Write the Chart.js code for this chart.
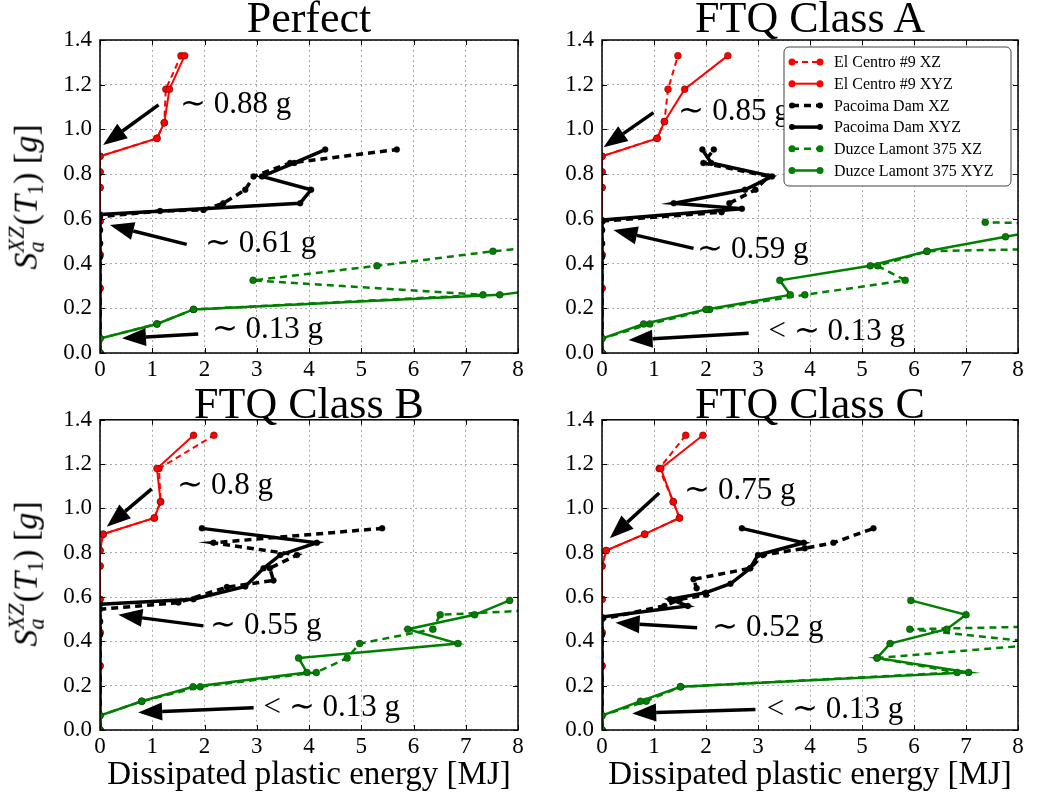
<!DOCTYPE html>
<html>
<head>
<meta charset="utf-8">
<script src="https://cdn.jsdelivr.net/npm/chart.js@4.4.1/dist/chart.umd.min.js"></script>
<style>
  body { margin: 0; background: #fff; }
  #wrap { position: relative; width: 1043px; height: 796px; overflow: hidden; font-family: 'Liberation Serif', serif; color: #000; }
  canvas { position: absolute; }
  .ttl { position: absolute; transform: translate(-50%, -50%); font-size: 44px; white-space: nowrap; line-height: 1; }
  .xlab { position: absolute; transform: translate(-50%, -50%); font-size: 33px; white-space: nowrap; line-height: 1; }
  .ylab { position: absolute; transform: translate(-50%, -50%) rotate(-90deg); font-size: 34px; white-space: nowrap; line-height: 1; }
  .zw { display: inline-block; width: 0; font-size: 0.66em; font-style: italic; vertical-align: -0.3em; }
  .sp { font-size: 0.66em; font-style: italic; vertical-align: 0.6em; margin-right: 0.05em; }
  .sub1 { font-size: 0.66em; vertical-align: -0.25em; }
</style>
</head>
<body>
<div id="wrap">
  <canvas id="pPerfect" width="530" height="398" style="left:0;top:0"></canvas>
  <canvas id="pClassA" width="490" height="398" style="left:540px;top:0"></canvas>
  <canvas id="pClassB" width="530" height="398" style="left:0;top:398px"></canvas>
  <canvas id="pClassC" width="490" height="398" style="left:540px;top:398px"></canvas>

  <div class="ttl" style="left:309px;top:18px">Perfect</div>
  <div class="ttl" style="left:810px;top:18px">FTQ Class A</div>
  <div class="ttl" style="left:309px;top:404px">FTQ Class B</div>
  <div class="ttl" style="left:810px;top:404px">FTQ Class C</div>

  <div class="ylab" style="left:27px;top:197px"><i>S</i><span class="zw">a</span><span class="sp">XZ</span>(<i>T</i><span class="sub1">1</span>) [<i>g</i>]</div>
  <div class="ylab" style="left:27px;top:574px"><i>S</i><span class="zw">a</span><span class="sp">XZ</span>(<i>T</i><span class="sub1">1</span>) [<i>g</i>]</div>

  <div class="xlab" style="left:309px;top:773px">Dissipated plastic energy [MJ]</div>
  <div class="xlab" style="left:810px;top:773px">Dissipated plastic energy [MJ]</div>
</div>

<script>
// axis ticks
const xTicks = [0, 1, 2, 3, 4, 5, 6, 7, 8];
const yTicks = [0.0, 0.2, 0.4, 0.6, 0.8, 1.0, 1.2, 1.4];

const seriesNames = ['El Centro #9 XZ', 'El Centro #9 XYZ', 'Pacoima Dam XZ', 'Pacoima Dam XYZ',
  'Duzce Lamont 375 XZ', 'Duzce Lamont 375 XYZ'];

// [energy MJ, Sa g]
const perfectCentroXZ = [[0,0],[0,0.29],[0,0.44],[0,0.59],[0,0.74],[0,0.81],[0,0.88],[1.09,0.96],[1.23,1.03],[1.26,1.18],[1.55,1.33]];
const perfectCentroXYZ = [[0,0],[0,0.29],[0,0.44],[0,0.59],[0,0.74],[0,0.81],[0,0.88],[1.09,0.96],[1.23,1.03],[1.33,1.18],[1.62,1.33]];
const perfectPacoimaXZ = [[0,0],[0,0.43],[0,0.49],[0,0.55],[0,0.61],[1.15,0.635],[1.98,0.64],[2.36,0.67],[2.78,0.73],[2.94,0.79],[3.64,0.85],[5.68,0.91]];
const perfectPacoimaXYZ = [[0,0],[0,0.43],[0,0.49],[0,0.55],[0,0.62],[3.83,0.67],[4.04,0.73],[3.1,0.79],[3.72,0.85],[4.31,0.91]];
const perfectDuzceXZ = [[0,0],[0,0.065],[1.09,0.13],[1.79,0.195],[7.33,0.26],[2.93,0.325],[5.3,0.39],[7.52,0.455],[10.4,0.52]];
const perfectDuzceXYZ = [[0,0],[0,0.065],[1.09,0.13],[1.79,0.195],[7.65,0.26],[9.9,0.325]];

const classACentroXZ = [[0,0],[0,0.29],[0,0.44],[0,0.59],[0,0.74],[0,0.81],[0,0.88],[1.06,0.96],[1.2,1.035],[1.27,1.18],[1.46,1.33]];
const classACentroXYZ = [[0,0],[0,0.29],[0,0.44],[0,0.59],[0,0.74],[0,0.81],[0,0.88],[1.06,0.96],[1.2,1.035],[1.59,1.18],[2.42,1.33]];
const classAPacoimaXZ = [[0,0],[0,0.43],[0,0.49],[0,0.55],[0,0.59],[2.3,0.63],[2.45,0.67],[2.95,0.73],[3.2,0.79],[1.95,0.85],[2.15,0.91]];
const classAPacoimaXYZ = [[0,0],[0,0.43],[0,0.49],[0,0.55],[0,0.595],[2.69,0.645],[1.38,0.67],[2.75,0.73],[3.27,0.79],[2.1,0.85],[1.93,0.91]];
const classADuzceXZ = [[0,0],[0,0.065],[0.92,0.13],[2.07,0.195],[3.9,0.26],[5.83,0.325],[5.3,0.39],[6.25,0.455],[20,0.52],[7.37,0.585]];
const classADuzceXYZ = [[0,0],[0,0.065],[0.8,0.13],[2.0,0.195],[3.62,0.26],[3.42,0.325],[5.16,0.39],[6.25,0.455],[7.76,0.52],[9.3,0.585]];

const classBCentroXZ = [[0,0],[0,0.29],[0,0.44],[0,0.59],[0,0.74],[0,0.81],[0.06,0.884],[1.04,0.957],[1.16,1.03],[1.13,1.18],[2.18,1.33]];
const classBCentroXYZ = [[0,0],[0,0.29],[0,0.44],[0,0.59],[0,0.74],[0,0.81],[0.06,0.884],[1.04,0.957],[1.16,1.03],[1.09,1.18],[1.79,1.33]];
const classBPacoimaXZ = [[0,0],[0,0.43],[0,0.49],[0,0.545],[1.5,0.575],[2.43,0.645],[3.32,0.675],[3.25,0.73],[3.77,0.79],[2.17,0.845],[5.4,0.91]];
const classBPacoimaXYZ = [[0,0],[0,0.43],[0,0.49],[0,0.567],[1.79,0.59],[2.78,0.648],[3.13,0.73],[3.45,0.79],[4.15,0.845],[1.95,0.91]];
const classBDuzceXZ = [[0,0],[0,0.065],[0.8,0.13],[1.92,0.195],[4.14,0.26],[4.73,0.325],[4.97,0.39],[6.37,0.455],[6.51,0.52],[12.2,0.585]];
const classBDuzceXYZ = [[0,0],[0,0.065],[0.8,0.13],[1.78,0.195],[3.96,0.26],[3.8,0.325],[6.85,0.39],[5.89,0.455],[7.17,0.52],[7.84,0.585]];

const classCCentroXZ = [[0,0],[0,0.29],[0,0.44],[0,0.59],[0,0.74],[0.08,0.81],[0.82,0.884],[1.49,0.957],[1.37,1.03],[1.1,1.18],[1.61,1.33]];
const classCCentroXYZ = [[0,0],[0,0.29],[0,0.44],[0,0.59],[0,0.74],[0.08,0.81],[0.82,0.884],[1.49,0.957],[1.37,1.03],[1.13,1.18],[1.94,1.33]];
const classCPacoimaXZ = [[0,0],[0,0.43],[0,0.5],[1.2,0.56],[1.5,0.59],[2.0,0.61],[1.82,0.64],[1.76,0.68],[2.85,0.73],[3.1,0.79],[3.9,0.82],[4.45,0.845],[5.22,0.91]];
const classCPacoimaXYZ = [[0,0],[0,0.43],[0,0.51],[1.65,0.56],[1.31,0.59],[2.0,0.62],[2.47,0.66],[2.85,0.73],[3.0,0.79],[3.88,0.845],[2.69,0.91]];
const classCDuzceXZ = [[0,0],[0,0.065],[0.85,0.13],[1.51,0.195],[6.83,0.26],[5.29,0.325],[8.63,0.39],[5.92,0.455],[19.4,0.52]];
const classCDuzceXYZ = [[0,0],[0,0.065],[0.74,0.13],[1.51,0.195],[7.05,0.26],[5.29,0.325],[5.54,0.39],[6.63,0.455],[7.0,0.52],[5.94,0.585]];

// arrow notes: tail -> head in data units, text anchored at its left
const perfectNotes = [
  { from: [1.12, 1.11], to: [0.06, 0.93], at: [1.53, 1.11], text: '∼ 0.88 g' },
  { from: [1.66, 0.486], to: [0.19, 0.572], at: [2.01, 0.49], text: '∼ 0.61 g' },
  { from: [1.88, 0.085], to: [0.42, 0.066], at: [2.14, 0.103], text: '∼ 0.13 g' }
];
const classANotes = [
  { from: [0.99, 1.075], to: [0.03, 0.92], at: [1.47, 1.08], text: '∼ 0.85 g' },
  { from: [1.76, 0.468], to: [0.22, 0.55], at: [1.83, 0.46], text: '∼ 0.59 g' },
  { from: [2.82, 0.088], to: [0.51, 0.058], at: [3.2, 0.095], text: '< ∼ 0.13 g' }
];
const classBNotes = [
  { from: [0.99, 1.088], to: [0.13, 0.917], at: [1.48, 1.10], text: '∼ 0.8 g' },
  { from: [1.98, 0.47], to: [0.35, 0.52], at: [2.11, 0.47], text: '∼ 0.55 g' },
  { from: [2.94, 0.10], to: [0.73, 0.079], at: [3.13, 0.10], text: '< ∼ 0.13 g' }
];
const classCNotes = [
  { from: [1.10, 1.07], to: [0.15, 0.865], at: [1.58, 1.08], text: '∼ 0.75 g' },
  { from: [1.83, 0.462], to: [0.26, 0.484], at: [2.12, 0.46], text: '∼ 0.52 g' },
  { from: [2.95, 0.093], to: [0.58, 0.075], at: [3.17, 0.093], text: '< ∼ 0.13 g' }
];

const seriesStyle = [
  { color: '#ff0000', width: 2, dash: [6, 4], radius: 3.5 },
  { color: '#ff0000', width: 2, dash: [], radius: 3.5 },
  { color: '#000000', width: 3.5, dash: [7, 5], radius: 3 },
  { color: '#000000', width: 3.5, dash: [], radius: 3 },
  { color: '#008000', width: 2.5, dash: [7, 5], radius: 3.5 },
  { color: '#008000', width: 2.5, dash: [], radius: 3.5 }
];

const serifFont = "'Liberation Serif', serif";

function drawArrow(ctx, x1, y1, x2, y2) {
  const ang = Math.atan2(y2 - y1, x2 - x1);
  const headLen = 24, headHalf = 9;
  const bx = x2 - headLen * Math.cos(ang), by = y2 - headLen * Math.sin(ang);
  ctx.lineWidth = 3.5;
  ctx.beginPath();
  ctx.moveTo(x1, y1);
  ctx.lineTo(bx, by);
  ctx.stroke();
  ctx.beginPath();
  ctx.moveTo(x2, y2);
  ctx.lineTo(bx + headHalf * Math.sin(ang), by - headHalf * Math.cos(ang));
  ctx.lineTo(bx - headHalf * Math.sin(ang), by + headHalf * Math.cos(ang));
  ctx.closePath();
  ctx.fill();
}

function drawLegend(chart) {
  const { ctx, chartArea: a } = chart;
  const w = 227, h = 139;
  const bx = a.right - w - 7, by = a.top + 7;
  ctx.save();
  ctx.beginPath();
  ctx.roundRect(bx, by, w, h, 5);
  ctx.fillStyle = '#fff';
  ctx.fill();
  ctx.lineWidth = 1;
  ctx.strokeStyle = '#444';
  ctx.stroke();
  chart.data.datasets.forEach((ds, i) => {
    const cy = by + 15 + i * 21.7;
    ctx.strokeStyle = ds.borderColor;
    ctx.lineWidth = ds.borderWidth;
    ctx.setLineDash(ds.borderDash);
    ctx.beginPath();
    ctx.moveTo(bx + 8, cy);
    ctx.lineTo(bx + 36, cy);
    ctx.stroke();
    ctx.setLineDash([]);
    ctx.fillStyle = ds.pointBackgroundColor;
    [bx + 8, bx + 36].forEach(px => {
      ctx.beginPath();
      ctx.arc(px, cy, ds.pointRadius, 0, Math.PI * 2);
      ctx.fill();
    });
    ctx.fillStyle = '#000';
    ctx.font = '16px ' + serifFont;
    ctx.textBaseline = 'middle';
    ctx.fillText(ds.label, bx + 50, cy + 1);
  });
  ctx.restore();
}

const panelDeco = {
  id: 'panelDeco',
  afterDatasetsDraw(chart, args, opts) {
    const { ctx, chartArea: a, scales: { x, y } } = chart;
    ctx.save();
    ctx.strokeStyle = '#000';
    ctx.lineWidth = 1;
    ctx.beginPath();
    x.ticks.forEach(t => {
      const px = Math.round(x.getPixelForValue(t.value)) + 0.5;
      ctx.moveTo(px, a.bottom); ctx.lineTo(px, a.bottom - 5);
      ctx.moveTo(px, a.top); ctx.lineTo(px, a.top + 5);
    });
    y.ticks.forEach(t => {
      const py = Math.round(y.getPixelForValue(t.value)) + 0.5;
      ctx.moveTo(a.left, py); ctx.lineTo(a.left + 5, py);
      ctx.moveTo(a.right, py); ctx.lineTo(a.right - 5, py);
    });
    ctx.stroke();
    ctx.lineWidth = 1.5;
    ctx.strokeRect(a.left, a.top, a.right - a.left, a.bottom - a.top);

    ctx.fillStyle = '#000';
    ctx.strokeStyle = '#000';
    opts.notes.forEach(n => {
      drawArrow(ctx, x.getPixelForValue(n.from[0]), y.getPixelForValue(n.from[1]),
        x.getPixelForValue(n.to[0]), y.getPixelForValue(n.to[1]));
      ctx.font = '31px ' + serifFont;
      ctx.textBaseline = 'middle';
      ctx.fillText(n.text, x.getPixelForValue(n.at[0]), y.getPixelForValue(n.at[1]));
    });
    ctx.restore();
    if (opts.legend) drawLegend(chart);
  }
};

function makePanel(id, seriesList, notes, opts) {
  const datasets = seriesList.map((pts, i) => ({
    label: seriesNames[i],
    data: pts.map(([ex, sa]) => ({ x: ex, y: sa })),
    showLine: true,
    borderColor: seriesStyle[i].color,
    borderWidth: seriesStyle[i].width,
    borderDash: seriesStyle[i].dash,
    pointRadius: seriesStyle[i].radius,
    pointBackgroundColor: seriesStyle[i].color,
    pointBorderColor: 'rgba(0,0,0,0.55)',
    pointBorderWidth: 0.6,
    order: 10 - i,
    clip: 0
  }));
  return new Chart(document.getElementById(id), {
    type: 'scatter',
    data: { datasets },
    options: {
      responsive: false,
      animation: false,
      events: [],
      layout: { padding: { top: opts.top, left: 0, right: 12, bottom: 0 } },
      plugins: {
        legend: { display: false },
        tooltip: { enabled: false },
        panelDeco: { notes, legend: !!opts.legend }
      },
      scales: {
        x: {
          type: 'linear', min: 0, max: 8,
          afterBuildTicks: s => { s.ticks = xTicks.map(v => ({ value: v })); },
          afterFit: s => { s.height = opts.xh; },
          ticks: { font: { family: serifFont, size: 23 }, color: '#000', padding: 3, maxRotation: 0,
            callback: v => String(v) },
          grid: { color: '#aaaaaa', lineWidth: 1, drawTicks: false },
          border: { display: false, dash: [2, 3] }
        },
        y: {
          type: 'linear', min: 0, max: 1.4,
          afterBuildTicks: s => { s.ticks = yTicks.map(v => ({ value: v })); },
          afterFit: s => { s.width = opts.yw; },
          ticks: { font: { family: serifFont, size: 23 }, color: '#000', padding: 8,
            callback: v => v.toFixed(1) },
          grid: { color: '#aaaaaa', lineWidth: 1, drawTicks: false },
          border: { display: false, dash: [2, 3] }
        }
      }
    },
    plugins: [panelDeco]
  });
}

makePanel('pPerfect',
  [perfectCentroXZ, perfectCentroXYZ, perfectPacoimaXZ, perfectPacoimaXYZ, perfectDuzceXZ, perfectDuzceXYZ],
  perfectNotes, { top: 40, xh: 45, yw: 100 });
makePanel('pClassA',
  [classACentroXZ, classACentroXYZ, classAPacoimaXZ, classAPacoimaXYZ, classADuzceXZ, classADuzceXYZ],
  classANotes, { top: 40, xh: 45, yw: 62, legend: true });
makePanel('pClassB',
  [classBCentroXZ, classBCentroXYZ, classBPacoimaXZ, classBPacoimaXYZ, classBDuzceXZ, classBDuzceXYZ],
  classBNotes, { top: 19, xh: 66, yw: 100 });
makePanel('pClassC',
  [classCCentroXZ, classCCentroXYZ, classCPacoimaXZ, classCPacoimaXYZ, classCDuzceXZ, classCDuzceXYZ],
  classCNotes, { top: 19, xh: 66, yw: 62 });
</script>
</body>
</html>
